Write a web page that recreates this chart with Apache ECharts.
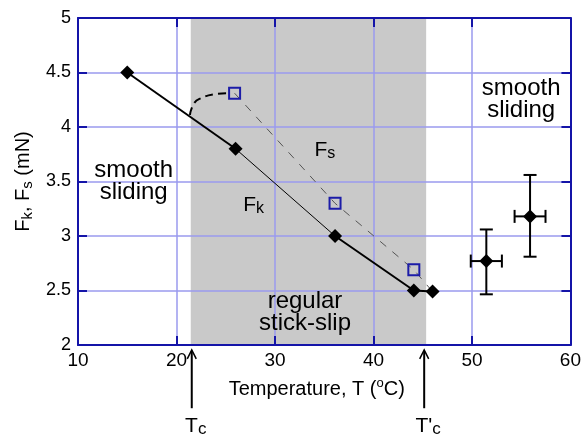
<!DOCTYPE html>
<html><head><meta charset="utf-8">
<script src="https://cdn.jsdelivr.net/npm/echarts@6/dist/echarts.min.js"></script>
<style>html,body{margin:0;padding:0;background:#fff}#c{width:584px;height:443px}</style>
</head><body><div id="c"></div>
<script>
// ---- data ----
const X_MIN = 10, X_MAX = 60, X_STEP = 10;
const Y_MIN = 2, Y_MAX = 5, Y_STEP = 0.5;
const FK_T = [15, 26, 36.1, 44.1, 46];
const FK_F = [4.5, 3.8, 3.0, 2.5, 2.49];
const FS_T = [25.9, 36.1, 44.1];
const FS_F = [4.31, 3.30, 2.69];
const EB_T = [51.46, 55.9];
const EB_F = [2.77, 3.18];
const EB_TERR = [1.58, 1.57];
const EB_FLO = [2.465, 2.81];
const EB_FHI = [3.06, 3.56];
const STICK_SLIP = [21.45, 45.35];
const CURVE_T = [21.36, 21.8, 22.5, 23.8, 25.2];
const CURVE_F = [4.11, 4.22, 4.265, 4.30, 4.31];
const TC_T = [21.55, 45.15];
const ARROW_F = [1.955, 1.42];
const TC_LABEL_F = 1.27;

const FONT = 'Liberation Sans, Arial, Helvetica, sans-serif';
const GRID_C = '#9a9aee', AXIS_C = '#1414a8', SQ_C = '#1c1ca8';

const pairs = (a, b) => a.map((v, i) => [v, b[i]]);
const fk = pairs(FK_T, FK_F);
const fs = pairs(FS_T, FS_F);

const chart = echarts.init(document.getElementById('c'), null, {renderer: 'canvas'});

const baseX = {type: 'value', min: X_MIN, max: X_MAX, interval: X_STEP, z: 1};
const baseY = {type: 'value', min: Y_MIN, max: Y_MAX, interval: Y_STEP, z: 1};
const axLine = {show: true, onZero: false, lineStyle: {color: AXIS_C, width: 2}};
const tick = {show: true, inside: true, length: 9, lineStyle: {color: AXIS_C, width: 2}};

const option = {
  animation: false,
  backgroundColor: '#fff',
  grid: {left: 78, right: 9.5, top: 18, bottom: 98, containLabel: false},
  xAxis: [
    Object.assign({}, baseX, {
      position: 'bottom', axisLine: axLine, axisTick: tick,
      splitLine: {show: true, lineStyle: {color: GRID_C, width: 1.5}},
      axisLabel: {color: '#000', fontSize: 19, fontFamily: FONT, margin: 6},
      name: '{n|Temperature, T (}{sup|o}{n|C)}', nameLocation: 'middle', nameGap: 32,
      nameTextStyle: {color: '#000', fontFamily: FONT, padding: [0, 15, 0, 0],
        rich: {n: {fontSize: 20, fontFamily: FONT, color: '#000', lineHeight: 22, verticalAlign: 'bottom'},
               sup: {fontSize: 13, fontFamily: FONT, color: '#000', lineHeight: 14, verticalAlign: 'top'}}}
    }),
    Object.assign({}, baseX, {position: 'top', axisLine: axLine, axisTick: tick, axisLabel: {show: false}, splitLine: {show: false}})
  ],
  yAxis: [
    Object.assign({}, baseY, {
      position: 'left', axisLine: axLine, axisTick: tick,
      splitLine: {show: true, lineStyle: {color: GRID_C, width: 1.5}},
      axisLabel: {color: '#000', fontSize: 18, fontFamily: FONT, margin: 7},
      name: '{n|F}{sub|k}{n|, F}{sub|s}{n| (mN)}', nameLocation: 'middle', nameRotate: 90, nameGap: 40,
      nameTextStyle: {color: '#000', fontFamily: FONT,
        rich: {n: {fontSize: 20, fontFamily: FONT, color: '#000', lineHeight: 22, verticalAlign: 'top'},
               sub: {fontSize: 15, fontFamily: FONT, color: '#000', lineHeight: 10, verticalAlign: 'bottom'}}}
    }),
    Object.assign({}, baseY, {position: 'right', axisLine: axLine, axisTick: tick, axisLabel: {show: false}, splitLine: {show: false}})
  ],
  series: [
    {
      type: 'custom', z: 0, silent: true,
      data: [STICK_SLIP],
      renderItem: (params, api) => {
        const a = api.coord([api.value(0), Y_MAX]);
        const b = api.coord([api.value(1), Y_MIN]);
        return {type: 'rect', shape: {x: a[0], y: a[1], width: b[0] - a[0], height: b[1] - a[1]}, style: {fill: '#c9c9c9'}};
      }
    },
    {type: 'line', z: 3, symbol: 'none', data: fk.slice(0, 2), lineStyle: {color: '#000', width: 2}},
    {type: 'line', z: 3, symbol: 'none', data: fk.slice(1, 3), lineStyle: {color: '#000', width: 1}},
    {type: 'line', z: 3, symbol: 'none', data: fk.slice(2), lineStyle: {color: '#000', width: 2}},
    {type: 'line', z: 3, symbol: 'none', data: fs.concat([fk[fk.length - 1]]), lineStyle: {color: '#555', width: 1, type: [8, 8]}},
    {type: 'line', z: 3, symbol: 'none', smooth: 0.5, data: pairs(CURVE_T, CURVE_F), lineStyle: {color: '#000', width: 2, type: [8, 5]}},
    {type: 'scatter', z: 5, symbol: 'diamond', symbolSize: 14, data: fk, itemStyle: {color: '#000', opacity: 1}},
    {type: 'scatter', z: 5, symbol: 'rect', symbolSize: 11, data: fs, itemStyle: {color: 'rgba(0,0,0,0)', borderColor: SQ_C, borderWidth: 2, opacity: 1}},
    {
      type: 'custom', z: 4, silent: true,
      data: EB_T.map((t, i) => [t, EB_F[i], EB_TERR[i], EB_FLO[i], EB_FHI[i]]),
      renderItem: (params, api) => {
        const t = api.value(0), f = api.value(1), te = api.value(2), lo = api.value(3), hi = api.value(4);
        const pl = api.coord([t - te, f]), pr = api.coord([t + te, f]);
        const pt = api.coord([t, hi]), pb = api.coord([t, lo]);
        const st = {stroke: '#000', lineWidth: 2};
        const cap = 6.5;
        return {type: 'group', children: [
          {type: 'line', shape: {x1: pl[0], y1: pl[1], x2: pr[0], y2: pr[1]}, style: st},
          {type: 'line', shape: {x1: pt[0], y1: pt[1], x2: pb[0], y2: pb[1]}, style: st},
          {type: 'line', shape: {x1: pl[0], y1: pl[1] - cap, x2: pl[0], y2: pl[1] + cap}, style: st},
          {type: 'line', shape: {x1: pr[0], y1: pr[1] - cap, x2: pr[0], y2: pr[1] + cap}, style: st},
          {type: 'line', shape: {x1: pt[0] - cap, y1: pt[1], x2: pt[0] + cap, y2: pt[1]}, style: st},
          {type: 'line', shape: {x1: pb[0] - cap, y1: pb[1], x2: pb[0] + cap, y2: pb[1]}, style: st}
        ]};
      }
    },
    {type: 'scatter', z: 6, symbol: 'diamond', symbolSize: 14, data: pairs(EB_T, EB_F), itemStyle: {color: '#000', opacity: 1}}
  ]
};
chart.setOption(option);

// ---- annotations ----
const P = (t, f) => chart.convertToPixel({gridIndex: 0}, [t, f]);
const ANNOT = [
  {t: 15.65, f: 3.505, text: 'smooth\nsliding'},
  {t: 55.0, f: 4.257, text: 'smooth\nsliding'},
  {t: 33.05, f: 2.303, text: 'regular\nstick-slip'}
];
const gfx = [];
ANNOT.forEach(a => {
  const p = P(a.t, a.f);
  gfx.push({type: 'text', x: p[0], y: p[1], z: 10, style: {text: a.text, fontSize: 24, fontFamily: FONT, fill: '#000', lineHeight: 22, align: 'center', verticalAlign: 'middle'}});
});
const SUBLABELS = [
  {t: 35.07, f: 3.784, text: '{n|F}{s|s}'},
  {t: 27.84, f: 3.28, text: '{n|F}{s|k}'}
];
const richSub = {
  n: {fontSize: 21, fontFamily: FONT, fill: '#000', lineHeight: 22, verticalAlign: 'top'},
  s: {fontSize: 16, fontFamily: FONT, fill: '#000', lineHeight: 8, verticalAlign: 'bottom'}
};
SUBLABELS.forEach(a => {
  const p = P(a.t, a.f);
  gfx.push({type: 'text', x: p[0], y: p[1], z: 10, style: {text: a.text, rich: richSub, align: 'center', verticalAlign: 'middle'}});
});
const TC_TEXT = ['{n|T}{s|c}', "{n|T'}{s|c}"];
TC_T.forEach((t, i) => {
  const a = P(t, ARROW_F[0]), b = P(t, ARROW_F[1]);
  const st = {stroke: '#000', lineWidth: 2};
  gfx.push({type: 'line', shape: {x1: b[0], y1: b[1], x2: a[0], y2: a[1] + 1}, style: st});
  gfx.push({type: 'polyline', shape: {points: [[a[0] - 4.5, a[1] + 9], [a[0], a[1]], [a[0] + 4.5, a[1] + 9]]}, style: {stroke: '#000', lineWidth: 1.5, fill: null}});
  const l = P(t, TC_LABEL_F);
  gfx.push({type: 'text', x: l[0] + 4, y: l[1] + 2, style: {text: TC_TEXT[i], rich: {
    n: {fontSize: 21, fontFamily: FONT, fill: '#000', lineHeight: 22, verticalAlign: 'top'},
    s: {fontSize: 17, fontFamily: FONT, fill: '#000', lineHeight: 8, verticalAlign: 'bottom'}
  }, align: 'center', verticalAlign: 'middle'}});
});
chart.setOption({graphic: gfx});
</script>
</body></html>
